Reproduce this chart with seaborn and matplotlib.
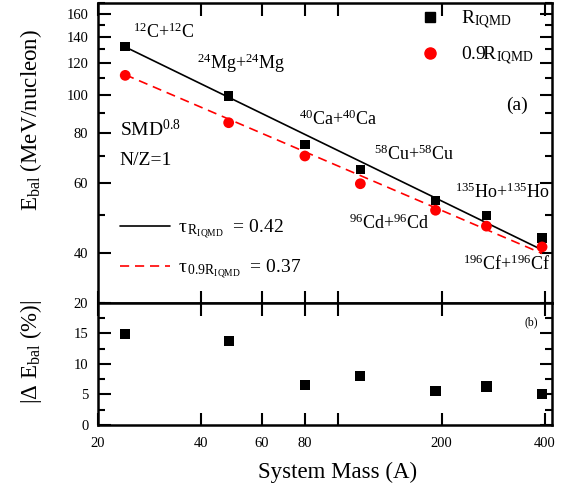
import numpy as np
import pandas as pd
import matplotlib
matplotlib.use("Agg")
import matplotlib.pyplot as plt
import seaborn as sns
from matplotlib.ticker import NullLocator, NullFormatter
from matplotlib.lines import Line2D

# ---------------- data ----------------
mass = [24, 48, 80, 116, 192, 270, 392]
e_bal_R = [132.3, 99.3, 75.0, 65.0, 54.3, 49.8, 43.7]
e_bal_09R = [111.9, 85.1, 70.2, 59.8, 51.3, 46.8, 41.5]
delta_pct = [14.9, 13.8, 6.6, 8.0, 5.6, 6.3, 5.1]

# power-law fits  E = amp * A^(-tau)
tau_R, amp_R = 0.42, 501.0
tau_09R, amp_09R = 0.37, 364.0

system_labels = [r"$^{12}$C+$^{12}$C", r"$^{24}$Mg+$^{24}$Mg", r"$^{40}$Ca+$^{40}$Ca",
                 r"$^{58}$Cu+$^{58}$Cu", r"$^{96}$Cd+$^{96}$Cd", r"$^{135}$Ho+$^{135}$Ho",
                 r"$^{196}$Cf+$^{196}$Cf"]
label_pos = [(31.1, 138.5), (52.3, 116.4), (99.9, 84.2), (166.2, 68.5),
             (140.6, 45.9), (300.8, 55.2), (309.0, 36.3)]

x_ticks = [20, 40, 60, 80, 100, 200, 400]
x_ticklabels = ["20", "40", "60", "80", "", "200", "400"]
y_ticks_top = [40, 60, 80, 100, 120, 140, 160]
y_minor_top = [30, 50, 70, 90, 110, 130, 150, 170]
y_ticks_bot = [0, 5, 10, 15, 20]
y_minor_bot = [2.5, 7.5, 12.5, 17.5]

df = pd.DataFrame({"mass": mass, "R": e_bal_R, "R09": e_bal_09R, "delta": delta_pct})
mass_arr = np.array(mass, dtype=float)
df["fit_R"] = amp_R * mass_arr ** (-tau_R)
df["fit_09R"] = amp_09R * mass_arr ** (-tau_09R)

# ---------------- style ----------------
sns.set_theme(style="ticks")
plt.rcParams['font.family'] = ['Liberation Serif', 'DejaVu Serif']
plt.rcParams['mathtext.fontset'] = 'custom'
plt.rcParams['mathtext.rm'] = 'Liberation Serif'
plt.rcParams['mathtext.it'] = 'Liberation Serif:italic'
plt.rcParams['mathtext.bf'] = 'Liberation Serif:bold'
plt.rcParams['axes.edgecolor'] = 'black'
plt.rcParams['axes.linewidth'] = 1.8
plt.rcParams['text.color'] = 'black'
plt.rcParams['axes.labelcolor'] = 'black'
plt.rcParams['xtick.color'] = 'black'
plt.rcParams['ytick.color'] = 'black'

fig = plt.figure(figsize=(5.62, 4.88), dpi=100)
ax1 = fig.add_axes([0.1744, 0.379, 0.8078, 0.6148])
ax2 = fig.add_axes([0.1744, 0.1291, 0.8078, 0.2500], sharex=ax1)

for ax in (ax1, ax2):
    ax.set_xscale('log')
ax1.set_yscale('log')

red = '#ff0000'

sns.lineplot(data=df, x="mass", y="fit_R", ax=ax1, color='black', lw=1.2, zorder=2)
sns.lineplot(data=df, x="mass", y="fit_09R", ax=ax1, color=red, lw=1.2,
             linestyle=(0, (5.5, 3.5)), zorder=2)
sns.scatterplot(data=df, x="mass", y="R", ax=ax1, marker='s', color='black', s=48,
                edgecolor='none', legend=False, zorder=3)
sns.scatterplot(data=df, x="mass", y="R09", ax=ax1, marker='o', color=red, s=60,
                edgecolor='none', legend=False, zorder=3)
sns.scatterplot(data=df, x="mass", y="delta", ax=ax2, marker='s', color='black', s=55,
                edgecolor='none', legend=False, zorder=3)

# axes limits / ticks
ax1.set_xlim(20, 419)
ax1.set_ylim(30, 170)
ax2.set_ylim(0, 20)

ax2.set_xticks(x_ticks, labels=x_ticklabels)
ax1.xaxis.set_minor_locator(NullLocator())
ax2.xaxis.set_minor_locator(NullLocator())

ax1.set_yticks(y_ticks_top, labels=[str(v) for v in y_ticks_top])
ax1.set_yticks(y_minor_top, minor=True)
ax1.yaxis.set_minor_formatter(NullFormatter())
ax2.set_yticks(y_ticks_bot, labels=[str(v) for v in y_ticks_bot])
ax2.set_yticks(y_minor_bot, minor=True)

for ax in (ax1, ax2):
    ax.tick_params(which='both', direction='in', top=True, right=True, colors='black',
                   labelsize=10.5, width=1.5)
    ax.tick_params(which='major', length=9, pad=7)
    ax.tick_params(which='minor', length=5)
    ax.set_xlabel("")
    ax.set_ylabel("")
ax1.tick_params(labelbottom=False)
ax2.tick_params(axis='x', pad=9)

ax2.set_xlabel("System Mass (A)", fontsize=16.5)
ax1.set_ylabel(r"E$_{\rm bal}$ (MeV/nucleon)", fontsize=16.5)
ax2.set_ylabel(r"|$\Delta$ E$_{\rm bal}$ (%)|", fontsize=16.5)
ax1.yaxis.set_label_coords(-0.118, 0.61)
ax2.yaxis.set_label_coords(-0.12, 0.60)
ax2.xaxis.set_label_coords(0.527, -0.305)

# annotations
for lab, (xx, yy) in zip(system_labels, label_pos):
    ax1.text(xx, yy, lab, fontsize=13, ha='center', va='baseline')

ax1.text(0.048, 0.557, r"SMD$^{0.8}$", transform=ax1.transAxes, fontsize=14,
         ha='left', va='baseline')
ax1.text(0.048, 0.46, "N/Z=1", transform=ax1.transAxes, fontsize=14,
         ha='left', va='baseline')
ax1.text(0.947, 0.643, "(a)", transform=ax1.transAxes, fontsize=14,
         ha='right', va='baseline')
ax2.text(0.969, 0.82, "(b)", transform=ax2.transAxes, fontsize=8.5,
         ha='right', va='baseline')

# legends
h1 = [Line2D([], [], marker='s', color='black', ls='none', markersize=7),
      Line2D([], [], marker='o', color=red, ls='none', markersize=8)]
leg1 = ax1.legend(h1, [r"R$_{\rm IQMD}$", r"0.9R$_{\rm IQMD}$"], loc='upper left',
                  bbox_to_anchor=(0.709, 0.983), frameon=False, fontsize=14,
                  handlelength=1.0, handletextpad=1.1, borderpad=0, labelspacing=0.7,
                  borderaxespad=0)
ax1.add_artist(leg1)

h2 = [Line2D([], [], color='black', lw=1.2),
      Line2D([], [], color=red, lw=1.2, ls=(0, (5.5, 3.5)))]
ax1.legend(h2, [r"τ$_{\,\mathrm{R}_{\mathrm{IQMD}}}$  = %.2f" % tau_R,
                r"τ$_{\,0.9\mathrm{R}_{\mathrm{IQMD}}}$  = %.2f" % tau_09R],
           loc='upper left', bbox_to_anchor=(0.048, 0.283), frameon=False, fontsize=14,
           handlelength=2.57, handletextpad=0.4, borderpad=0, labelspacing=0.86,
           borderaxespad=0)

fig.savefig("out.png", dpi=100)
